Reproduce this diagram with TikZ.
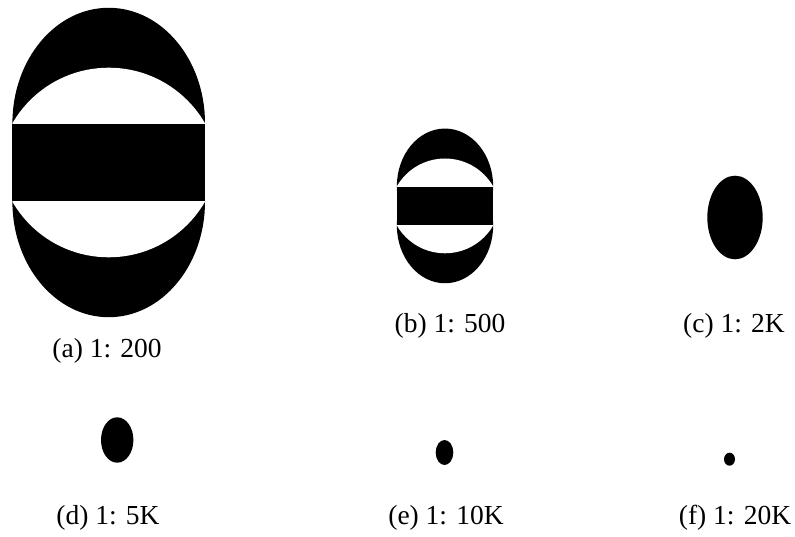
\documentclass[tikz,border=0pt]{standalone}
\usepackage{fontspec}
\setmainfont{Liberation Serif}
\begin{document}
\begin{tikzpicture}[x=1pt,y=-1pt,
  lab/.style={anchor=base,inner sep=0pt,font=\fontsize{27.5}{33}\selectfont},
  blob/.style={fill=black},
  lensfig/.pic={
    % capsule: half-ellipse top, band, half-ellipse bottom
    \fill[black] (0,-39.2) ellipse [x radius=96.3, y radius=115.5];
    \fill[black] (0,39.2) ellipse [x radius=96.3, y radius=115.5];
    \fill[black] (-96.3,-39.2) rectangle (96.3,39.2);
    \begin{scope}
      \clip (0,-39.2) ellipse [x radius=96.3, y radius=115.5];
      \clip (-110,-39.2) rectangle (110,-170);
      \fill[white] (0,16.4) circle [radius=111.2];
    \end{scope}
    \begin{scope}
      \clip (0,39.2) ellipse [x radius=96.3, y radius=115.5];
      \clip (-110,39.2) rectangle (110,170);
      \fill[white] (0,-16.4) circle [radius=111.2];
    \end{scope}
  }]
\useasboundingbox (0,0) rectangle (795,537);
% shapes
\pic at (108.7,162.5) {lensfig};
\pic[scale=0.5] at (445,205.9) {lensfig};
\fill[blob] (735,217.5) ellipse [x radius=27.7, y radius=41.8];
\fill[blob] (117.2,440) ellipse [x radius=16.2, y radius=22.7];
\fill[blob] (444.5,452.5) ellipse [x radius=8.8, y radius=12.5];
\fill[blob] (729.5,459.2) ellipse [x radius=5.5, y radius=6.5];
% captions
\node[lab] (la) at (107,357.3) {(a) 1: 200};
\node[lab] (lb) at (450,332) {(b) 1: 500};
\node[lab] (lc) at (734,332) {(c) 1: 2K};
\node[lab] (ld) at (108,524) {(d) 1: 5K};
\node[lab] (le) at (446,524) {(e) 1: 10K};
\node[lab] (lf) at (735,524) {(f) 1: 20K};
\end{tikzpicture}
\end{document}
